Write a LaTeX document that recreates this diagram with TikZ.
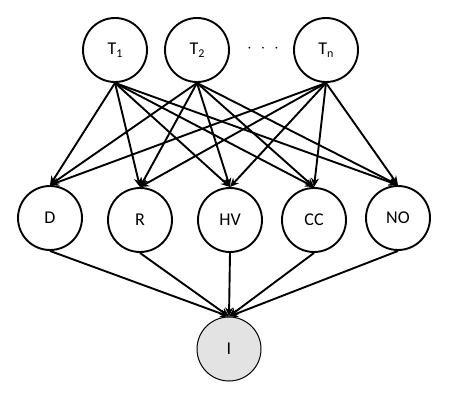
\documentclass[tikz,border=0pt]{standalone}
\usepackage{fontspec}
\setmainfont{Carlito}
\usetikzlibrary{arrows.meta}
\newcommand{\mysub}[1]{\raisebox{-0.35ex}{\fontsize{12}{14}\selectfont #1}}
\begin{document}
\begin{tikzpicture}[x=1pt,y=-1pt,
  var/.style={circle,draw=black,line width=1.9pt,minimum size=64pt,inner sep=0pt,font=\fontsize{18}{20}\selectfont},
  obs/.style={var,line width=1pt,fill=black!11},
  edge/.style={-{Stealth[length=9pt,width=8pt]},line width=1.9pt}]
\useasboundingbox (0,0) rectangle (457,401);
\node[var] (t1) at (115,50) {T\mysub{1}};
\node[var] (t2) at (197,50) {T\mysub{2}};
\node[var] (tn) at (326,50) {T\mysub{n}};
\node[font=\fontsize{18}{20}\selectfont] (dots) at (263,49) {$\cdot\;\cdot\;\cdot$};
\node[var] (d) at (50,218) {D};
\node[var] (r) at (140,220) {R};
\node[var] (hv) at (230,220) {HV};
\node[var] (cc) at (314,220) {CC};
\node[var] (no) at (398,218) {NO};
\node[obs] (i) at (229,349) {I};
\foreach \t in {t1,t2,tn}
  \foreach \m in {d,r,hv,cc,no}
    \draw[edge] (\t.south) -- (\m.north);
\foreach \m in {d,r,hv,cc,no}
  \draw[edge] (\m.south) -- (i.north);
\end{tikzpicture}
\end{document}
